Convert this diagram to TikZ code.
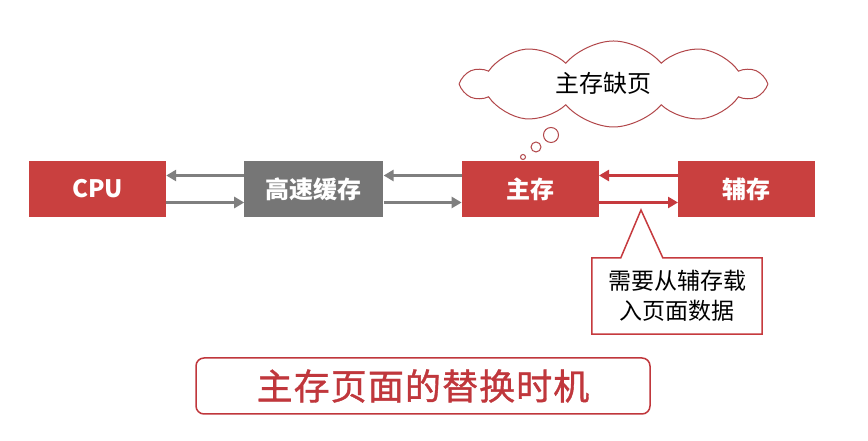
\documentclass[tikz,border=0pt]{standalone}
\usepackage{fontspec}
\setmainfont{Noto Sans CJK SC}
\usetikzlibrary{arrows.meta}
\usetikzlibrary{calc,shapes,positioning}
\usetikzlibrary{shapes.symbols}
\definecolor{boxred}{HTML}{C9403F}
\definecolor{boxgray}{HTML}{767676}
\definecolor{linegray}{HTML}{7F7F7F}
\definecolor{linered}{HTML}{C63A3E}
\definecolor{cloudred}{HTML}{B2474A}
\definecolor{titlered}{HTML}{C0373C}
\tikzset{
  unit/.style={minimum width=137pt, minimum height=56pt, inner sep=0pt,
    text=white, font=\fontsize{24}{24}\selectfont\bfseries},
  garrow/.style={draw=linegray, line width=3pt, -{Triangle[length=10pt,width=11pt]}},
  rarrow/.style={draw=linered, line width=3pt, -{Triangle[length=10pt,width=11pt]}},
  bubble/.style={circle, draw=cloudred, line width=1pt, fill=white, inner sep=0pt}
}

\begin{document}
\begin{tikzpicture}[x=1pt,y=1pt]
          \def\off{13.5}
          \useasboundingbox[fill=white] (0,0) rectangle (868,441);

          % the four units in a row
          \node[unit, fill=boxred] (cpu) at (97.5,252) {CPU};
          \node[unit, fill=boxgray, minimum width=139pt, right=78pt of cpu] (cache) {高速缓存};
          \node[unit, fill=boxred, right=78pt of cache] (main) {主存};
          \node[unit, fill=boxred, right=79pt of main] (aux) {辅存};

          \draw[garrow] ([yshift=\off]cache.west) -- ([yshift=\off]cpu.east);
          \draw[garrow] ([yshift=-\off]cpu.east) -- ([yshift=-\off]cache.west);
          \draw[garrow] ([yshift=\off]main.west) -- ([yshift=\off]cache.east);
          \draw[garrow] ([yshift=-\off]cache.east) -- ([yshift=-\off]main.west);
          \draw[rarrow] ([yshift=\off]aux.west) -- ([yshift=\off]main.east);
          \draw[rarrow] ([yshift=-\off]main.east) -- ([yshift=-\off]aux.west);

          % thought cloud over main memory
          \node[cloud, cloud puffs=10, cloud puff arc=100, cloud ignores aspect, draw=cloudred, line width=1pt, fill=white,
                minimum width=300pt, minimum height=86pt, inner sep=0pt] (miss) at (613.5,357) {};
          \node[font=\fontsize{24}{24}\selectfont] (misstext) at (603,358) {主存缺页};
          \node[bubble, minimum size=5pt] (b1) at (523,284) {};
          \node[bubble, minimum size=10pt] (b2) at (536,294) {};
          \node[bubble, minimum size=15pt] (b3) at (551,306) {};

          % callout below the lower red arrow
          \node[minimum width=170pt, minimum height=76pt, inner sep=0pt, align=center,
                font=\fontsize{23}{30}\selectfont] (note) at (677,145) {需要从辅存载\\入页面数据};
          \coordinate (tip) at (641,231);
          \draw[linered, line width=1.5pt, line join=miter]
            (note.north west) -- ($(note.north west)+(29,0)$) -- (tip) -- ($(note.north west)+(71,0)$)
            -- (note.north east) -- (note.south east) -- (note.south west) -- cycle;

          % title
          \node[draw=titlered, line width=1.5pt, rounded corners=8pt, minimum width=454pt, minimum height=56pt,
                text=titlered, font=\fontsize{36}{36}\selectfont\addfontfeature{LetterSpace=3,FakeBold=1}] (title) at (423,55) {主存页面的替换时机};
        \end{tikzpicture}
\end{document}
